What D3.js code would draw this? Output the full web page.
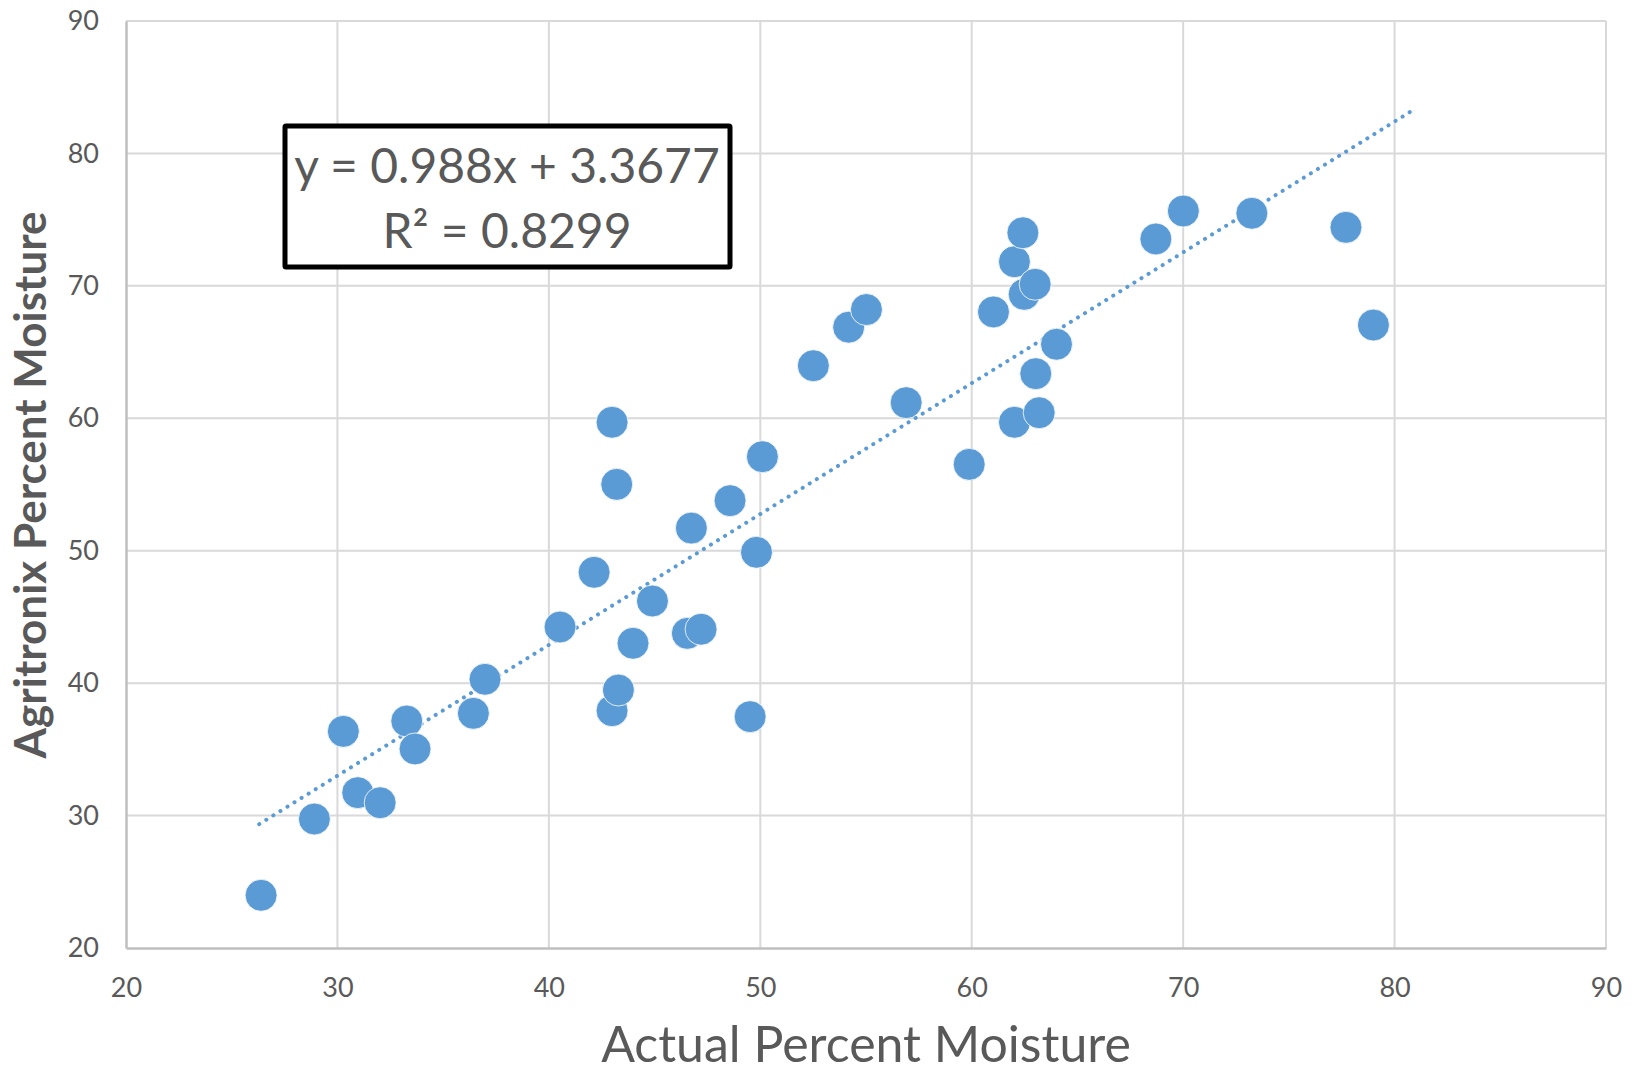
<!DOCTYPE html>
<html lang="en">
<head>
<meta charset="UTF-8">
<title>Agritronix vs Actual Percent Moisture</title>
<script src="https://cdn.jsdelivr.net/npm/d3@7"></script>
<style>
  body { margin: 0; background: #fff; }
  svg { display: block; }
</style>
</head>
<body>
<svg></svg>
<script>
    // readings
    const actual = [26.39, 28.91, 30.28, 30.96, 32.02, 33.28, 33.67, 36.43, 36.98, 40.53,
        42.14, 42.99, 43.21, 42.99, 43.29, 43.98, 44.90, 46.74, 46.55, 47.20,
        48.57, 49.52, 49.82, 50.10, 52.51, 54.18, 55.02, 56.90, 59.88, 61.03,
        62.02, 62.02, 62.42, 62.48, 63.00, 63.03, 63.19, 64.01, 68.71, 70.01,
        73.25, 77.70, 79.00];
    const agritronix = [23.98, 29.74, 36.36, 31.73, 30.97, 37.14, 35.03, 37.72, 40.29, 44.24,
        48.37, 59.70, 55.01, 37.92, 39.48, 43.01, 46.20, 51.71, 43.76, 44.07,
        53.78, 37.47, 49.88, 57.10, 63.97, 66.88, 68.21, 61.18, 56.52, 68.03,
        59.70, 71.82, 74.01, 69.36, 70.12, 63.37, 60.42, 65.59, 73.54, 75.65,
        75.48, 74.42, 67.04];
    const ticks = [20, 30, 40, 50, 60, 70, 80, 90];
    const slope = 0.988, intercept = 3.3677, r2 = 0.8299;
    const trendSpan = [26.3, 81];

    const width = 1636, height = 1072;
    const m = {left: 126, right: 1606, top: 21, bottom: 948};
    const blue = "#5B9BD5", grey = "#595959";
    const font = "Lato, 'Open Sans', sans-serif";

    const svg = d3.select("svg")
        .attr("width", width)
        .attr("height", height)
        .style("font-family", font);

    const x = d3.scaleLinear().domain([20, 90]).range([m.left, m.right]);
    const y = d3.scaleLinear().domain([20, 90]).range([m.bottom, m.top]);

    // gridlines
    const grid = svg.append("g").attr("stroke", "#D9D9D9").attr("stroke-width", 2);
    grid.selectAll("line.v").data(ticks.slice(1)).enter().append("line")
        .attr("x1", d => x(d)).attr("x2", d => x(d))
        .attr("y1", m.top).attr("y2", m.bottom);
    grid.selectAll("line.h").data(ticks.slice(1)).enter().append("line")
        .attr("y1", d => y(d)).attr("y2", d => y(d))
        .attr("x1", m.left).attr("x2", m.right);

    // axes via d3 axis generators, then restyled
    const xAxis = svg.append("g")
        .attr("transform", `translate(0,${m.bottom})`)
        .call(d3.axisBottom(x).tickValues(ticks).tickSize(0).tickPadding(49));
    const yAxis = svg.append("g")
        .attr("transform", `translate(${m.left},0)`)
        .call(d3.axisLeft(y).tickValues(ticks).tickSize(0).tickPadding(27));
    [xAxis, yAxis].forEach(a => {
        a.select(".domain").attr("stroke", "#BFBFBF").attr("stroke-width", 2.5);
        a.selectAll("text")
            .attr("fill", grey)
            .style("font-family", font)
            .style("font-size", "27px");
    });
    xAxis.selectAll("text").attr("dy", "0");

    // trendline
    svg.append("line")
        .attr("x1", x(trendSpan[0])).attr("y1", y(slope * trendSpan[0] + intercept))
        .attr("x2", x(trendSpan[1])).attr("y2", y(slope * trendSpan[1] + intercept))
        .attr("stroke", blue)
        .attr("stroke-width", 4)
        .attr("stroke-linecap", "round")
        .attr("stroke-dasharray", "0.1 8.2");

    // points
    svg.append("g").selectAll("circle")
        .data(actual.map((d, i) => [d, agritronix[i]]))
        .enter().append("circle")
        .attr("cx", d => x(d[0]))
        .attr("cy", d => y(d[1]))
        .attr("r", 16)
        .attr("fill", blue)
        .attr("stroke", "#fff")
        .attr("stroke-width", 0.8);

    // equation box
    const box = svg.append("g");
    box.append("rect")
        .attr("x", 285).attr("y", 126)
        .attr("width", 445).attr("height", 141)
        .attr("fill", "#fff")
        .attr("stroke", "#000")
        .attr("stroke-width", 5)
        .attr("rx", 1);
    const eq = box.append("text")
        .attr("text-anchor", "middle")
        .attr("fill", grey)
        .style("font-size", "48px");
    eq.append("tspan").attr("x", 507).attr("y", 183)
        .text(`y = ${slope}x + ${intercept}`);
    eq.append("tspan").attr("x", 507).attr("y", 248)
        .text(`R² = ${r2}`);

    // axis titles
    svg.append("text")
        .attr("x", (m.left + m.right) / 2)
        .attr("y", 1062)
        .attr("text-anchor", "middle")
        .attr("fill", grey)
        .style("font-size", "50px")
        .text("Actual Percent Moisture");

    svg.append("text")
        .attr("transform", `translate(46,485) rotate(-90)`)
        .attr("text-anchor", "middle")
        .attr("fill", grey)
        .style("font-size", "44px")
        .style("font-weight", "bold")
        .text("Agritronix Percent Moisture");
</script>
</body>
</html>
